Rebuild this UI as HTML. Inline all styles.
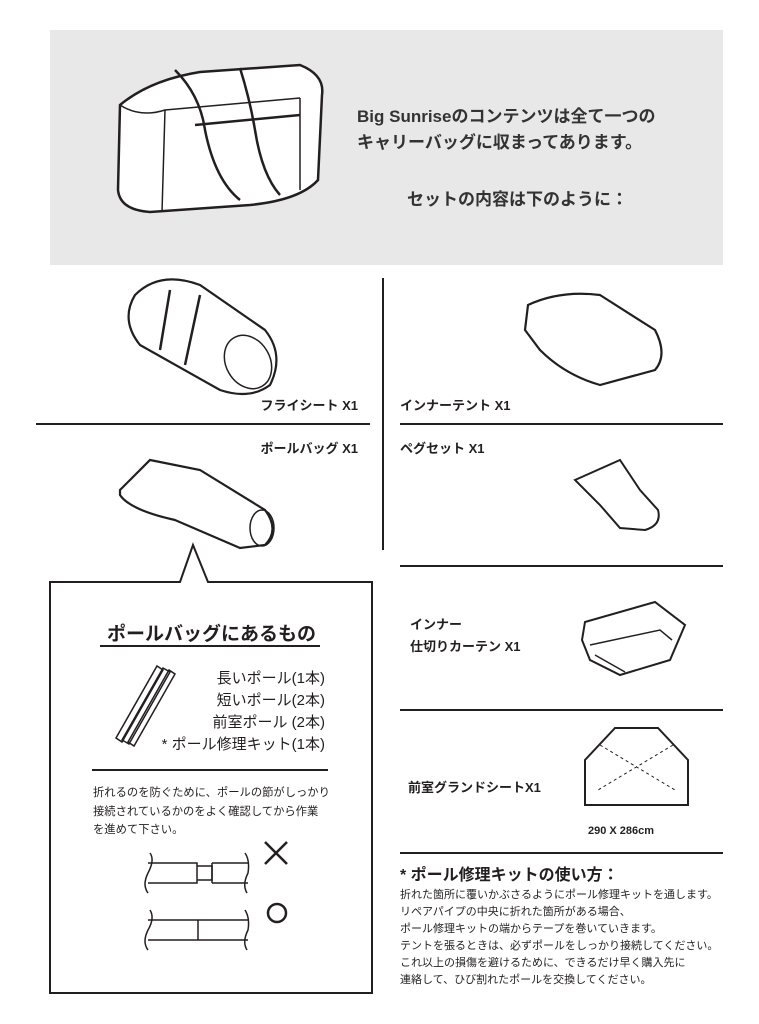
<!DOCTYPE html>
<html><head><meta charset="utf-8"><style>
body{margin:0;width:759px;height:1024px;background:#fff;position:relative;overflow:hidden;font-family:"Liberation Sans","Noto Sans CJK JP",sans-serif;color:#231f20}
.t{position:absolute;white-space:nowrap}
svg{position:absolute;left:0;top:0}
</style></head><body>
<svg width="759" height="1024" viewBox="0 0 759 1024" fill="none" stroke="#231f20" stroke-width="2">
<rect x="50" y="30" width="673" height="235" fill="#e8e8e8" stroke="none"/>
<path d="M120 105 Q150 80 200 72 L300 65 Q325 75 322 95 L318 180 Q300 200 250 205 L150 212 Q120 210 118 190 Z" fill="#fff" stroke-width="2.5"/>
<path d="M120 105 Q140 118 165 110 L300 98 M165 110 L162 212 M300 98 L300 190" stroke-width="1.5"/>
<path d="M175 70 Q200 95 205 130 Q215 180 240 200 M240 68 Q250 100 255 130 Q262 175 280 195 M195 125 L300 115" stroke-width="2.5"/>
<line x1="383" y1="278" x2="383" y2="550"/>
<line x1="36" y1="424" x2="370" y2="424"/>
<line x1="400" y1="424" x2="723" y2="424"/>
<line x1="400" y1="566" x2="723" y2="566"/>
<line x1="400" y1="710" x2="723" y2="710"/>
<line x1="400" y1="853" x2="723" y2="853"/>
<path d="M135 295 Q160 270 200 285 L265 330 Q285 355 270 385 Q250 400 220 390 L140 345 Q120 320 135 295 Z" fill="#fff" stroke-width="2.2"/>
<ellipse cx="248" cy="362" rx="22" ry="28" transform="rotate(-30 248 362)" stroke-width="1.5"/>
<path d="M170 290 L160 350 M200 295 L185 365" stroke-width="2.5"/>
<path d="M528 305 Q560 290 600 295 L655 330 Q668 355 655 370 L600 385 Q565 375 540 350 L525 330 Z" fill="#fff" stroke-width="2.2"/>
<path d="M120 490 L150 460 L200 470 L265 510 Q280 530 265 545 L240 548 L175 520 Q130 510 120 495 Z" fill="#fff" stroke-width="2.2"/>
<ellipse cx="262" cy="528" rx="12" ry="18" stroke-width="1.5"/>
<path d="M575 480 L620 460 L640 490 L658 510 Q662 525 645 530 L620 528 L600 505 Z" fill="#fff" stroke-width="2"/>
<path d="M585 622 L655 602 L685 625 L670 660 L620 675 L590 660 L582 640 Z" fill="#fff" stroke-width="2"/>
<path d="M590 645 L660 630 L672 640 M595 655 L625 672" stroke-width="1.5"/>
<path d="M615 728 L658 728 L688 760 L688 805 L585 805 L585 760 Z" stroke-width="2"/>
<path d="M600 745 L675 790 M673 745 L598 790" stroke-width="1" stroke-dasharray="3 3"/>
<path d="M50 582 L180 582 L193 545 L208 582 L372 582 L372 993 L50 993 Z" stroke-width="2"/>
<line x1="100" y1="646" x2="320" y2="646"/>
<line x1="92" y1="770" x2="328" y2="770"/>
<g stroke-width="1.5">
<path d="M122 740 L163 668 L170 672 L129 744 Z"/><path d="M128 742 L169 670 L175 674 L134 746 Z"/><path d="M116 738 L157 666 L163 670 L122 742 Z"/>
</g>
<g stroke-width="1.5">
<path d="M148 863 L197 863 L197 883 L148 883 M197 866 L212 866 L212 880 L197 880 M212 863 L248 863 M212 883 L248 883 L212 883"/>
<path d="M212 863 L212 883"/>
<path d="M150 853 Q155 860 148 873 Q142 885 148 893 M245 853 Q250 860 248 873 Q242 885 247 893"/>
<path d="M148 920 L248 920 M148 940 L248 940 M198 920 L198 940"/>
<path d="M150 910 Q155 918 148 930 Q142 942 148 950 M245 910 Q250 918 248 930 Q242 942 247 950"/>
</g>
<path d="M265 842 L287 864 M287 842 L265 864" stroke-width="2.5"/>
<circle cx="277" cy="913" r="9" stroke-width="2.5"/>
</svg>
<div class="t" style="left:357px;top:104px;font-size:17px;line-height:26px;font-weight:bold;color:#333">Big Sunriseのコンテンツは全て一つの<br>キャリーバッグに収まってあります。</div>
<div class="t" style="left:407px;top:185px;font-size:17px;font-weight:bold;color:#333">セットの内容は下のように：</div>
<div class="t" style="right:401px;top:395px;font-size:13px;font-weight:bold">フライシート X1</div>
<div class="t" style="left:400px;top:395px;font-size:13px;font-weight:bold">インナーテント X1</div>
<div class="t" style="right:401px;top:438px;font-size:13px;font-weight:bold">ポールバッグ X1</div>
<div class="t" style="left:400px;top:438px;font-size:13px;font-weight:bold">ペグセット X1</div>
<div class="t" style="left:410px;top:614px;font-size:13px;line-height:22px;font-weight:bold">インナー<br>仕切りカーテン X1</div>
<div class="t" style="left:408px;top:777px;font-size:13px;font-weight:bold">前室グランドシートX1</div>
<div class="t" style="left:588px;top:825px;font-size:11px;font-weight:bold">290 X 286cm</div>
<div class="t" style="left:107px;top:619px;font-size:19px;font-weight:bold">ポールバッグにあるもの</div>
<div class="t" style="right:434px;top:668px;font-size:15px;line-height:22px;text-align:right">長いポール(1本)<br>短いポール(2本)<br>前室ポール (2本)<br>* ポール修理キット(1本)</div>
<div class="t" style="left:93px;top:784px;font-size:11.3px;line-height:18.5px">折れるのを防ぐために、ポールの節がしっかり<br>接続されているかのをよく確認してから作業<br>を進めて下さい。</div>
<div class="t" style="left:400px;top:861px;font-size:16px;font-weight:bold">* ポール修理キットの使い方：</div>
<div class="t" style="left:400px;top:887px;font-size:11px;line-height:17px">折れた箇所に覆いかぶさるようにポール修理キットを通します。<br>リペアパイプの中央に折れた箇所がある場合、<br>ポール修理キットの端からテープを巻いていきます。<br>テントを張るときは、必ずポールをしっかり接続してください。<br>これ以上の損傷を避けるために、できるだけ早く購入先に<br>連絡して、ひび割れたポールを交換してください。</div>
</body></html>
